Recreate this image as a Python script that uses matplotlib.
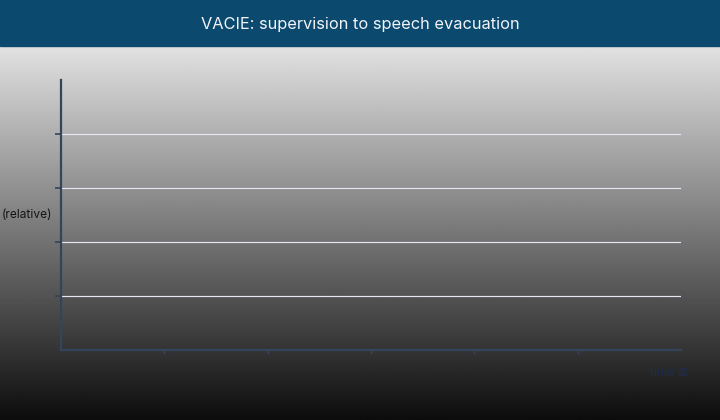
import matplotlib.pyplot as plt
import numpy as np
from matplotlib.patches import Rectangle

plt.rcParams['font.family'] = ['Inter', 'DejaVu Sans']

title = "VACIE: supervision to speech evacuation"
x_label = "time \u22a0"
y_label = "(relative)"

# chart has axes and grid but no plotted series
x_ticks = [1, 2, 3, 4, 5]
y_ticks = [1, 2, 3, 4]
x_range = (0, 6)
y_range = (0, 5)
series_x = []
series_y = []

W, H = 720, 420
fig = plt.figure(figsize=(W / 100, H / 100), dpi=100)

# gray-to-black gradient background below the title bar
bg = fig.add_axes([0, 0, 1, 1 - 46 / H], zorder=-2)
grad = np.linspace(0.05, 0.885, 256).reshape(-1, 1)
bg.imshow(grad, aspect='auto', cmap='gray', vmin=0, vmax=1,
          origin='lower', extent=[0, 1, 0, 1])
bg.axis('off')

# title bar
fig.patches.append(Rectangle((0, 1 - 46 / H), 1, 46 / H,
                             transform=fig.transFigure, color='#0b4a6e', zorder=-1))
fig.text(0.5, 1 - 25 / H, title, color='#f2f4f8', fontsize=11.8,
         ha='center', va='center')

ax = fig.add_axes([61 / W, 1 - 350 / H, 620 / W, 270 / H])
ax.patch.set_alpha(0)
ax.plot(series_x, series_y)
ax.set_xlim(*x_range)
ax.set_ylim(*y_range)
ax.set_xticks(x_ticks)
ax.set_yticks(y_ticks)
ax.set_xticklabels([])
ax.set_yticklabels([])
ax.tick_params(axis='x', length=3, width=1, color='#34445a')
ax.tick_params(axis='y', length=4, width=1.2, color='#34445a')
ax.grid(axis='y', color='#e4e7f2', linewidth=0.85)
ax.set_axisbelow(True)
for s in ['top', 'right']:
    ax.spines[s].set_visible(False)
for s in ['left', 'bottom']:
    ax.spines[s].set_color('#34445a')
    ax.spines[s].set_linewidth(1.6)

fig.text(2 / W, 1 - 215 / H, y_label, color='#151515', fontsize=8.6,
         ha='left', va='center')
fig.text(688 / W, 1 - 373 / H, x_label, color='#1f2c4c', fontsize=8.6,
         ha='right', va='center')

fig.savefig('out.png', dpi=100)
